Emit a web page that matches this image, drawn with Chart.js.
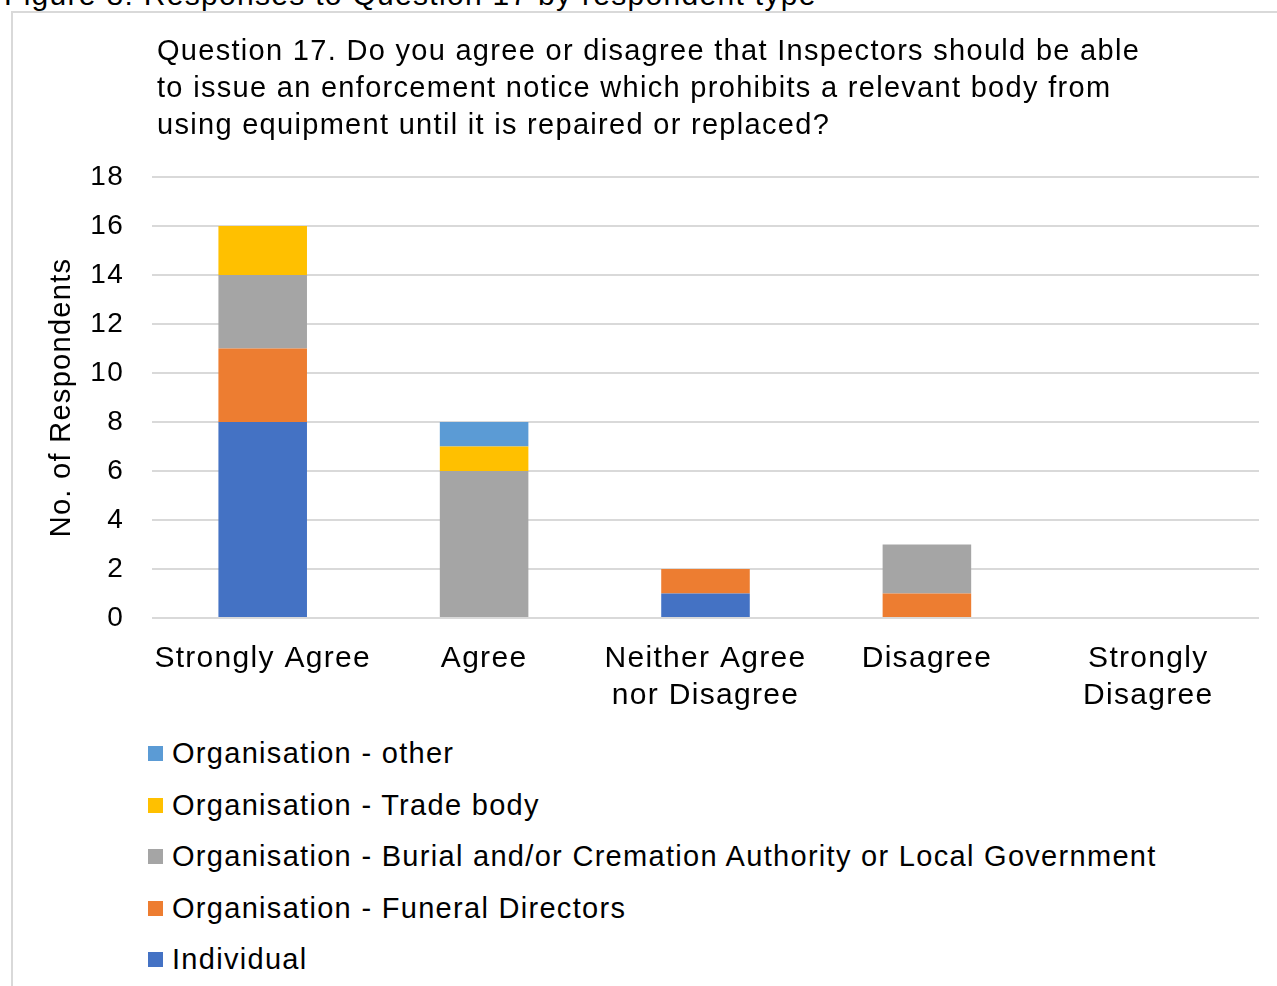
<!DOCTYPE html>
<html lang="en">
<head>
  <meta charset="UTF-8">
  <title>Responses to Question 17 by respondent type</title>
  <script src="https://cdn.jsdelivr.net/npm/chart.js"></script>
  <style>
    body {
      margin: 0;
      width: 1277px;
      height: 986px;
      position: relative;
      overflow: hidden;
      background: #fff;
      color: #000;
      font-family: 'Liberation Sans', Arial, sans-serif;
    }
    .caption {
      position: absolute;
      left: 4px;
      top: -21px;
      font-size: 30px;
      line-height: 32px;
      letter-spacing: 1.3px;
      white-space: nowrap;
    }
    .frame {
      position: absolute;
      left: 11px;
      top: 11px;
      width: 1300px;
      height: 1000px;
      border: 2px solid #d9d9d9;
    }
    #wrap {
      position: absolute;
      left: 0;
      top: 0;
      width: 1277px;
      height: 720px;
    }
    #legend {
      position: absolute;
      left: 148px;
      top: 728px;
      margin: 0;
      padding: 0;
      list-style: none;
      font-size: 29px;
      letter-spacing: 1.3px;
    }
    #legend li {
      height: 51.5px;
      display: flex;
      align-items: center;
      white-space: nowrap;
    }
    #legend .sw {
      width: 15px;
      height: 15px;
      margin-right: 9px;
      flex: none;
    }
  </style>
</head>
<body>

  <div class="caption">Figure 8: Responses to Question 17 by respondent type</div>
  <div class="frame"></div>
  <div id="wrap"><canvas id="q17Chart"></canvas></div>
  <ul id="legend"></ul>

  <script>
    // Answer categories (multi-line labels as arrays)
    const categories = ['Strongly Agree', 'Agree', ['Neither Agree', 'nor Disagree'], 'Disagree', ['Strongly', 'Disagree']];

    // Respondent counts per category, one array per respondent type
    const individual       = [8, 0, 1, 0, 0];
    const funeralDirectors = [3, 0, 1, 1, 0];
    const burialCremation  = [3, 6, 0, 2, 0];
    const tradeBody        = [2, 1, 0, 0, 0];
    const orgOther         = [0, 1, 0, 0, 0];

    const seriesNames = [
      'Individual',
      'Organisation - Funeral Directors',
      'Organisation - Burial and/or Cremation Authority or Local Government',
      'Organisation - Trade body',
      'Organisation - other'
    ];
    const seriesColors = ['#4472C4', '#ED7D31', '#A5A5A5', '#FFC000', '#5B9BD5'];
    const seriesValues = [individual, funeralDirectors, burialCremation, tradeBody, orgOther];

    // Y axis range
    const yMin = 0, yMax = 18, yStep = 2;

    const titleLines = [
      'Question 17. Do you agree or disagree that Inspectors should be able',
      'to issue an enforcement notice which prohibits a relevant body from',
      'using equipment until it is repaired or replaced?'
    ];

    // wider glyph spacing on everything drawn in the canvas,
    // and a small indent for the title
    const tweaks = {
      id: 'tweaks',
      beforeLayout(chart) { chart.ctx.letterSpacing = '1.3px'; },
      afterLayout(chart) {
        if (chart.titleBlock) {
          chart.titleBlock.left += 5;
          chart.titleBlock.right += 5;
        }
      },
      beforeDraw(chart) { chart.ctx.letterSpacing = '1.3px'; }
    };

    const FONT = "'Liberation Sans', Arial, sans-serif";

    const chart = new Chart(document.getElementById('q17Chart'), {
      type: 'bar',
      data: {
        labels: categories,
        datasets: seriesValues.map((vals, i) => ({
          label: seriesNames[i],
          data: vals,
          backgroundColor: seriesColors[i],
          borderWidth: 0,
          categoryPercentage: 1,
          barPercentage: 0.4
        }))
      },
      options: {
        responsive: true,
        maintainAspectRatio: false,
        animation: false,
        layout: { padding: { top: 33.5, left: 0, right: 18, bottom: 2 } },
        plugins: {
          legend: { display: false },
          tooltip: { enabled: false },
          title: {
            display: true,
            text: titleLines,
            align: 'start',
            fullSize: false,
            color: '#000',
            font: { family: FONT, size: 29, weight: 'normal', lineHeight: 37 / 29 },
            padding: { top: 0, bottom: 32.5 }
          }
        },
        scales: {
          x: {
            stacked: true,
            grid: { display: false, drawTicks: false },
            border: { display: false },
            ticks: {
              color: '#000',
              padding: 22,
              maxRotation: 0,
              autoSkip: false,
              font: { family: FONT, size: 30, lineHeight: 37 / 30 }
            },
            afterFit(scale) { scale.height = 100; }
          },
          y: {
            stacked: true,
            min: yMin,
            max: yMax,
            grid: { color: '#d9d9d9', lineWidth: 2, drawTicks: false },
            border: { display: false },
            ticks: {
              stepSize: yStep,
              color: '#000',
              padding: 28,
              font: { family: FONT, size: 28 }
            },
            title: {
              display: true,
              text: 'No. of Respondents',
              color: '#000',
              font: { family: FONT, size: 29 },
              padding: { top: 45, bottom: 0 }
            },
            afterFit(scale) { scale.width = 152; }
          }
        }
      },
      plugins: [tweaks]
    });

    // Legend listed top to bottom in reverse stacking order
    const legend = document.getElementById('legend');
    for (let i = seriesNames.length - 1; i >= 0; i--) {
      const li = document.createElement('li');
      const sw = document.createElement('span');
      sw.className = 'sw';
      sw.style.background = seriesColors[i];
      li.appendChild(sw);
      li.appendChild(document.createTextNode(seriesNames[i]));
      legend.appendChild(li);
    }
  </script>

</body>
</html>
